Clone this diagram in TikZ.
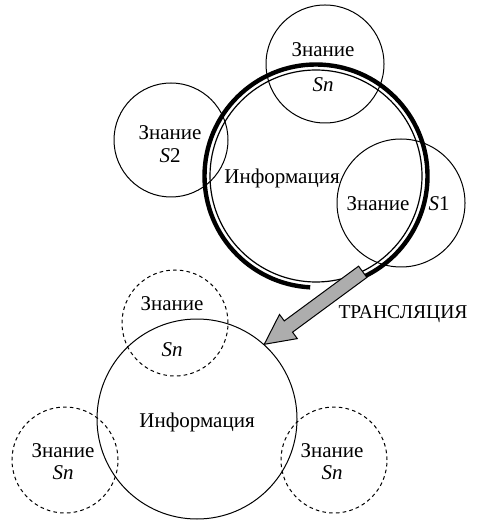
\documentclass[tikz,border=0pt]{standalone}
\usepackage{fontspec}
\setmainfont{Liberation Serif}
\usetikzlibrary{calc}
\begin{document}
\begin{tikzpicture}%
	[x=0.5pt, y=-0.5pt,
	know/.style={circle, draw, line width=0.5pt, inner sep=0pt},
	sketch/.style={know, dash pattern=on 1.8pt off 1.6pt},
	info/.style={circle, draw, line width=0.6pt, inner sep=0pt},
	word/.style={font=\fontsize{10.5}{12}\selectfont, inner sep=0pt},
	transfer/.style={draw=black, line width=0.5pt, fill=black!32}]
%
\useasboundingbox (0,0) rectangle (487,528);
%
%% Circles of knowledge round the first information
%%
\node[know, minimum size=59pt] (knowtop) at (325,64) {};
\node[know, minimum size=57pt] (knowleft) at (171,140) {};
\node[know, minimum size=64pt] (knowright) at (401,203) {};
%%
%% The first information (double ring)
%%
\node[info, minimum size=106pt] (info1) at (316,176) {};
\draw[line width=2.2pt] (info1.center) ++(93:111.5) arc[start angle=93, end angle=424, radius=111.5];
%%
%% The second information and its sketched knowledge
%%
\node[info, line width=0.5pt, minimum size=100pt] (info2) at (197,419) {};
\node[sketch, minimum size=53pt] (sketchtop) at (175,323) {};
\node[sketch, minimum size=53pt] (sketchleft) at (65,460) {};
\node[sketch, minimum size=53pt] (sketchright) at (334,460) {};
%%
%% Texts
%%
\node[word] (t1) at (323,50) {Знание};
\node[word] (t2) at (323,85) {\textit{Sn}};
\node[word] (t3) at (170,133) {Знание};
\node[word] (t4) at (170,156) {\textit{S}2};
\node[word] (t5) at (282,178) {Информация};
\node[word] (t6) at (378,204) {Знание};
\node[word] (t7) at (439,204) {\textit{S}1};
\node[word, font=\fontsize{9.8}{12}\selectfont] (t8) at (403,314) {ТРАНСЛЯЦИЯ};
\node[word] (t9) at (172,304) {Знание};
\node[word] (t10) at (172,350) {\textit{Sn}};
\node[word] (t11) at (197,422) {Информация};
\node[word] (t12) at (63,451) {Знание};
\node[word] (t13) at (63,473) {\textit{Sn}};
\node[word] (t14) at (332,451) {Знание};
\node[word] (t15) at (332,473) {\textit{Sn}};
%%
%% The transfer arrow
%%
\coordinate (tail) at (info1.-64);
\coordinate (tip) at (info2.48);
\coordinate (base) at ($(tip)!15pt!(tail)$);
\filldraw[transfer] ($(tail)!3.5pt!90:(tip)$) -- ($(base)!3.5pt!90:(tip)$)
	-- ($(base)!7.5pt!90:(tip)$) -- (tip) -- ($(base)!7.5pt!-90:(tip)$)
	-- ($(base)!3.5pt!-90:(tip)$) -- ($(tail)!3.5pt!-90:(tip)$) -- cycle;
%%
\end{tikzpicture}
\end{document}
